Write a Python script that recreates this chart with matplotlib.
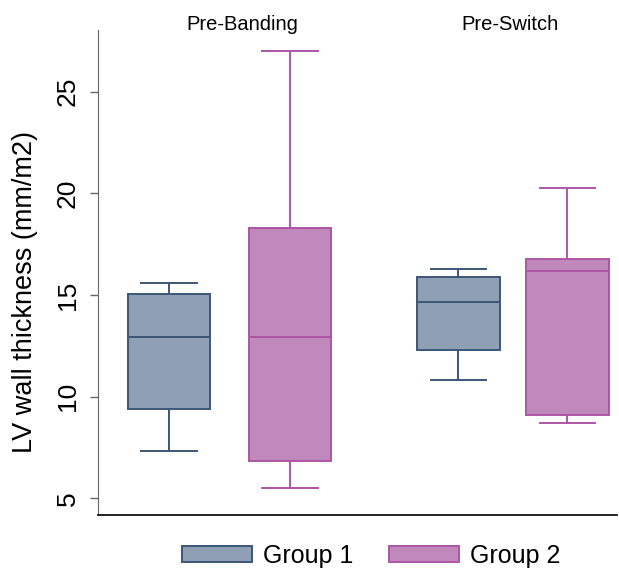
import matplotlib
matplotlib.use("Agg")
import matplotlib.pyplot as plt
from matplotlib.patches import Patch

plt.rcParams['font.family'] = ['Liberation Sans', 'DejaVu Sans']

# box statistics (LV wall thickness, mm/m2)
periods = ['Pre-Banding', 'Pre-Switch']
groups = ['Group 1', 'Group 2']
positions = [1.0, 2.0, 3.39, 4.29]
whislo = [7.31, 5.49, 10.82, 8.69]
q1 = [9.39, 6.85, 12.29, 9.10]
med = [12.93, 12.92, 14.64, 16.20]
q3 = [15.05, 18.31, 15.90, 16.77]
whishi = [15.60, 27.02, 16.28, 20.25]
title_x = [1.607, 3.818]

fill_cols = ['#8fa0b4', '#c088bb']
edge_cols = ['#3c5678', '#ae55a6']

fig = plt.figure(figsize=(6.19, 5.68), dpi=100)
ax = fig.add_axes([0.1583, 0.0933, 0.8385, 0.8539])

stats = []
for i in range(len(positions)):
    stats.append(dict(whislo=whislo[i], q1=q1[i], med=med[i], q3=q3[i],
                      whishi=whishi[i], fliers=[]))

for i, st in enumerate(stats):
    g = i % 2
    ec = edge_cols[g]
    ax.bxp([st], positions=[positions[i]], widths=0.68, capwidths=0.46,
           patch_artist=True, showfliers=False,
           boxprops=dict(facecolor=fill_cols[g], edgecolor=ec, linewidth=1.4),
           medianprops=dict(color=ec, linewidth=1.4),
           whiskerprops=dict(color=ec, linewidth=1.4),
           capprops=dict(color=ec, linewidth=1.4))

ax.set_xlim(0.413, 4.70)
ax.set_ylim(4.18, 28.03)
ax.set_xticks([])
ax.set_yticks([5, 10, 15, 20, 25])
ax.tick_params(axis='y', length=6, width=1, color='#666666', pad=7,
               labelsize=19)
for lab in ax.get_yticklabels():
    lab.set_rotation(90)
    lab.set_va('center')

ax.spines['top'].set_visible(False)
ax.spines['right'].set_visible(False)
ax.spines['left'].set_color('#666666')
ax.spines['bottom'].set_color('#111111')
ax.spines['bottom'].set_linewidth(1.3)

ax.set_ylabel('LV wall thickness (mm/m2)', fontsize=19.5)
ax.yaxis.set_label_coords(-0.115, 0.459)

for name, tx in zip(periods, title_x):
    ax.text(tx, 1.0115, name, transform=ax.get_xaxis_transform(),
            ha='center', va='center', fontsize=14.5, clip_on=False)

handles = [Patch(facecolor=fill_cols[g], edgecolor=edge_cols[g], linewidth=1.4)
           for g in range(2)]
fig.legend(handles, groups, loc='center', bbox_to_anchor=(371 / 619, 1 - 556 / 568),
           ncol=2, frameon=False, fontsize=18, handlelength=2.8,
           handleheight=0.64, handletextpad=0.44, columnspacing=1.4,
           borderpad=0, borderaxespad=0)

fig.savefig('out.png', dpi=100)
